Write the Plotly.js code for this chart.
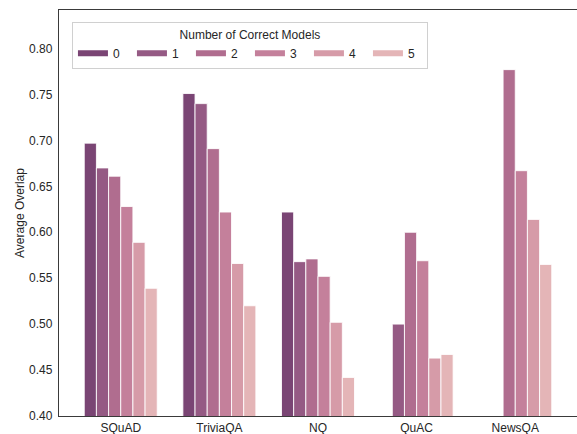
<!DOCTYPE html>
<html>
<head>
<meta charset="utf-8">
<script src="https://cdn.plot.ly/plotly-3.0.1.min.js"></script>
<style>html,body{margin:0;padding:0;background:#fff;}#chart{width:577px;height:434px;}</style>
</head>
<body>
<div id="chart"></div>
<script>
const datasets = ["SQuAD", "TriviaQA", "NQ", "QuAC", "NewsQA"];
const groups = ["0", "1", "2", "3", "4", "5"];
const overlap0 = [0.697, 0.751, 0.622, null, null];
const overlap1 = [0.670, 0.740, 0.568, 0.500, null];
const overlap2 = [0.661, 0.691, 0.571, 0.600, 0.777];
const overlap3 = [0.628, 0.622, 0.552, 0.569, 0.667];
const overlap4 = [0.589, 0.566, 0.502, 0.463, 0.614];
const overlap5 = [0.539, 0.520, 0.442, 0.467, 0.565];
const colors = ["#7a4574", "#955a84", "#b06d8f", "#c4809b", "#d69ba8", "#e4b5b7"];

const series = [overlap0, overlap1, overlap2, overlap3, overlap4, overlap5];
const traces = [];
series.forEach((vals, i) => {
  traces.push({
    type: "bar", x: datasets, y: vals, name: groups[i],
    marker: {color: colors[i], line: {color: "rgba(255,255,255,0.85)", width: 1}},
    showlegend: false, hoverinfo: "x+y"
  });
});
series.forEach((vals, i) => {
  traces.push({
    type: "scatter", mode: "lines", x: [null], y: [null], name: groups[i],
    line: {color: colors[i], width: 6}, showlegend: true, hoverinfo: "skip"
  });
});

const font = {family: "Liberation Sans, Arial, sans-serif", size: 12, color: "#262626"};
const layout = {
  width: 577, height: 434,
  margin: {l: 59, r: 0, t: 10, b: 18},
  paper_bgcolor: "#fff", plot_bgcolor: "#fff",
  font: font,
  barmode: "group", bargap: 0.26, bargroupgap: 0,
  xaxis: {
    type: "category", range: [-0.626, 4.626],
    showline: true, linecolor: "#3a3a3a", linewidth: 1.25, mirror: true,
    showgrid: false, zeroline: false, ticks: "", tickfont: font,
    automargin: false
  },
  yaxis: {
    range: [0.40, 0.8419], tickvals: [0.40, 0.45, 0.50, 0.55, 0.60, 0.65, 0.70, 0.75, 0.80],
    tickformat: ".2f", ticklabelstandoff: 3,
    showline: true, linecolor: "#3a3a3a", linewidth: 1.25,
    showgrid: false, zeroline: false, ticks: "", tickfont: font,
    title: {text: "Average Overlap", font: font, standoff: 1},
    automargin: false
  },
  showlegend: true,
  legend: {
    orientation: "h", x: 0.025, y: 0.97, xanchor: "left", yanchor: "top",
    bgcolor: "#fff", bordercolor: "#d0d0d0", borderwidth: 1,
    font: font, entrywidth: 14, entrywidthmode: "pixels",
    title: {text: "Number of Correct Models", side: "top center", font: font},
    traceorder: "normal"
  }
};
Plotly.newPlot("chart", traces, layout, {displayModeBar: false, staticPlot: true});
</script>
</body>
</html>
